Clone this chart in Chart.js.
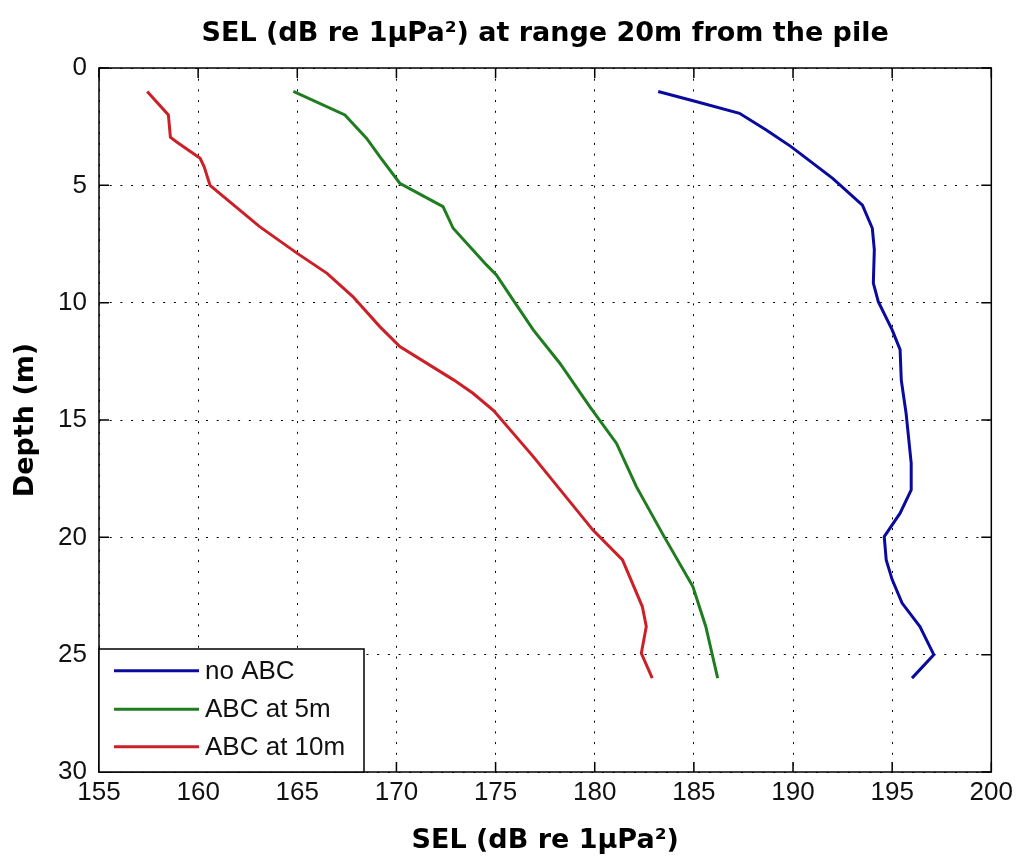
<!DOCTYPE html>
<html>
<head>
<meta charset="utf-8">
<script src="https://cdn.jsdelivr.net/npm/chart.js@4.4.1/dist/chart.umd.min.js"></script>
<style>
html,body{margin:0;padding:0;background:#fff;}
#wrap{width:1018px;height:863px;}
</style>
</head>
<body>
<div id="wrap"><canvas id="c" width="1018" height="863"></canvas></div>
<script>
// ---- data ----
const seriesNames = ['no ABC', 'ABC at 5m', 'ABC at 10m'];
const seriesColors = ['#0a0a9e', '#1f7d1f', '#cc2028'];

const depthNoABC = [1.0, 1.43, 1.93, 2.64, 3.35, 4.7, 5.84, 6.83, 7.75, 9.17, 9.96, 11.16, 12.0, 13.3, 14.7, 16.84, 17.98, 18.97, 19.97, 20.96, 21.8, 22.8, 23.8, 25.0, 26.0];
const selNoABC   = [183.2, 185.1, 187.3, 188.65, 189.9, 192.0, 193.5, 194.0, 194.1, 194.05, 194.3, 195.0, 195.4, 195.46, 195.7, 195.96, 195.96, 195.4, 194.6, 194.7, 195.0, 195.5, 196.4, 197.1, 196.0];

const depthABC5 = [1.0, 2.0, 3.0, 3.78, 4.91, 5.91, 6.83, 8.39, 8.82, 9.88, 11.16, 12.58, 14.43, 16.0, 17.84, 19.97, 22.1, 23.8, 26.0];
const selABC5   = [164.8, 167.4, 168.5, 169.16, 170.17, 172.35, 172.86, 174.54, 175.04, 175.88, 176.9, 178.24, 179.75, 181.1, 182.1, 183.5, 184.95, 185.6, 186.2];

const depthABC10 = [1.0, 2.0, 2.95, 3.14, 3.85, 4.2, 5.0, 6.76, 7.9, 8.75, 9.74, 11.02, 11.87, 13.3, 13.86, 14.6, 16.56, 19.68, 20.96, 22.95, 23.8, 24.94, 26.0];
const selABC10   = [157.43, 158.5, 158.6, 158.9, 160.1, 160.3, 160.6, 163.1, 165.0, 166.5, 167.8, 169.16, 170.17, 172.9, 173.86, 174.9, 176.9, 179.9, 181.4, 182.4, 182.6, 182.35, 182.9];

const xTicks = [155, 160, 165, 170, 175, 180, 185, 190, 195, 200];
const yTicks = [0, 5, 10, 15, 20, 25, 30];

const titleText = 'SEL (dB re 1\u03BCPa\u00B2) at range 20m from the pile';
const xTitle = 'SEL (dB re 1\u03BCPa\u00B2)';
const yTitle = 'Depth (m)';

// ---- build ----
const depths = [depthNoABC, depthABC5, depthABC10];
const sels = [selNoABC, selABC5, selABC10];
const datasets = seriesNames.map((name, k) => ({
  label: name,
  data: depths[k].map((d, i) => ({x: sels[k][i], y: d})),
  borderColor: seriesColors[k],
  backgroundColor: seriesColors[k],
  borderWidth: 3,
  showLine: true,
  pointRadius: 0,
  tension: 0
}));

const tickFont = {family: '"Liberation Sans", Arial, sans-serif', size: 26};
const titleFont = {family: '"DejaVu Sans", sans-serif', size: 27, weight: 'bold'};

const framePlugin = {
  id: 'frameAndLegend',
  afterLayout(chart) {
    // center the main title over the plot area, as in the reference
    const tb = chart.titleBlock;
    if (tb) { tb.left = chart.chartArea.left; tb.right = chart.chartArea.right; }
  },
  afterDatasetsDraw(chart) {
    const {ctx, chartArea: a, scales} = chart;
    const x = scales.x, y = scales.y;
    ctx.save();
    // ticks pointing inward
    ctx.strokeStyle = '#000';
    ctx.lineWidth = 1.5;
    ctx.beginPath();
    const L = 10;
    xTicks.forEach(v => {
      const p = x.getPixelForValue(v);
      ctx.moveTo(p, a.bottom); ctx.lineTo(p, a.bottom - L);
      ctx.moveTo(p, a.top); ctx.lineTo(p, a.top + L);
    });
    yTicks.forEach(v => {
      const p = y.getPixelForValue(v);
      ctx.moveTo(a.left, p); ctx.lineTo(a.left + L, p);
      ctx.moveTo(a.right, p); ctx.lineTo(a.right - L, p);
    });
    ctx.stroke();
    ctx.strokeRect(a.left, a.top, a.right - a.left, a.bottom - a.top);

    // legend box (bottom-left inside plot)
    const bw = 265, bh = 123;
    const bx = a.left, by = a.bottom - bh;
    ctx.fillStyle = '#fff';
    ctx.fillRect(bx, by, bw, bh);
    ctx.lineWidth = 1.5;
    ctx.strokeStyle = '#000';
    ctx.strokeRect(bx, by, bw, bh);
    const rows = [21.7, 60.3, 97.7];
    ctx.font = '26px "Liberation Sans", Arial, sans-serif';
    ctx.textBaseline = 'middle';
    ctx.textAlign = 'left';
    chart.data.datasets.forEach((ds, i) => {
      const ry = by + rows[i];
      ctx.strokeStyle = ds.borderColor;
      ctx.lineWidth = 3;
      ctx.beginPath();
      ctx.moveTo(bx + 15, ry); ctx.lineTo(bx + 100, ry);
      ctx.stroke();
      ctx.fillStyle = '#111';
      ctx.fillText(ds.label, bx + 106, ry + 1);
    });
    ctx.restore();
  }
};

new Chart(document.getElementById('c'), {
  type: 'scatter',
  data: {datasets},
  plugins: [framePlugin],
  options: {
    responsive: false,
    animation: false,
    devicePixelRatio: 1,
    layout: {padding: {left: 0, right: 26, top: 0, bottom: 0}},
    plugins: {
      legend: {display: false},
      tooltip: {enabled: false},
      title: {
        display: true,
        text: titleText,
        color: '#000',
        font: titleFont,
        padding: {top: 17.8, bottom: 17.8}
      }
    },
    scales: {
      x: {
        type: 'linear',
        position: 'bottom',
        min: 155, max: 200,
        afterBuildTicks: s => { s.ticks = xTicks.map(v => ({value: v})); },
        afterFit: s => { s.height = 91; },
        ticks: {color: '#111', font: tickFont, padding: 5, maxRotation: 0},
        grid: {color: '#000', lineWidth: 1, drawTicks: false},
        border: {display: false, dash: [2, 8.7]},
        title: {display: true, text: xTitle, color: '#000', font: titleFont, padding: {top: 0, bottom: 6}}
      },
      y: {
        type: 'linear',
        position: 'left',
        reverse: true,
        min: 0, max: 30,
        afterBuildTicks: s => { s.ticks = yTicks.map(v => ({value: v})); },
        afterFit: s => { s.width = 99; },
        ticks: {color: '#111', font: tickFont, padding: 12},
        grid: {color: '#000', lineWidth: 1, drawTicks: false},
        border: {display: false, dash: [2, 8.7]},
        title: {display: true, text: yTitle, color: '#000', font: titleFont, padding: {top: 10, bottom: 0}}
      }
    }
  }
});
</script>
</body>
</html>
